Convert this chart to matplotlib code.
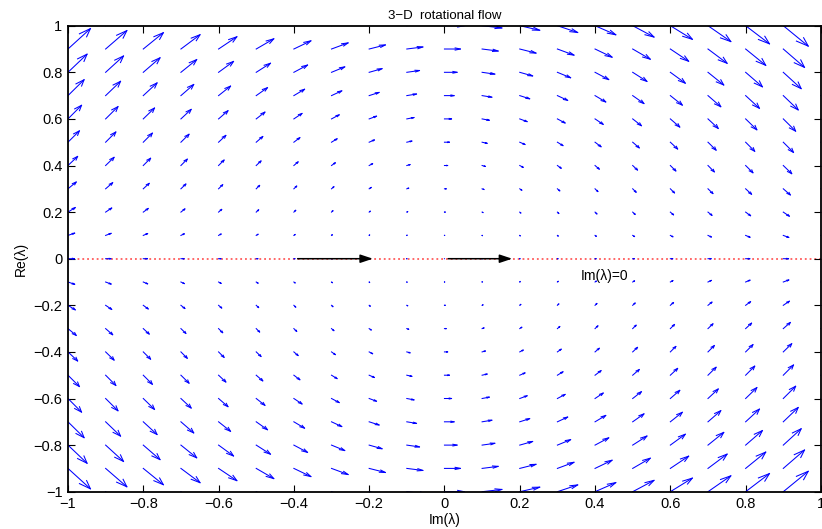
import numpy as np
import matplotlib
matplotlib.use('Agg')
import matplotlib.pyplot as plt
from matplotlib.patches import ArrowStyle

plt.rcParams['font.family'] = ['Liberation Sans', 'DejaVu Sans']

# grid of the quiver field (Im on x, Re on y)
x_grid = [-1.0, -0.9, -0.8, -0.7, -0.6, -0.5, -0.4, -0.3, -0.2, -0.1, 0.0,
          0.1, 0.2, 0.3, 0.4, 0.5, 0.6, 0.7, 0.8, 0.9, 1.0]
y_grid = [-1.0, -0.9, -0.8, -0.7, -0.6, -0.5, -0.4, -0.3, -0.2, -0.1, 0.0,
          0.1, 0.2, 0.3, 0.4, 0.5, 0.6, 0.7, 0.8, 0.9, 1.0]

# horizontal component read along the y=0 row (per column) and x=0 column (per row)
u_col = [0.0172, 0.0140, 0.0110, 0.0084, 0.0062, 0.0043, 0.0028, 0.0016, 0.0007, 0.0002, 0.0,
         0.0002, 0.0007, 0.0016, 0.0028, 0.0043, 0.0062, 0.0084, 0.0110, 0.0140, 0.0172]
u_row = [0.0523, 0.0424, 0.0335, 0.0256, 0.0188, 0.0131, 0.0084, 0.0047, 0.0021, 0.0005, 0.0,
         0.0005, 0.0021, 0.0047, 0.0084, 0.0131, 0.0188, 0.0256, 0.0335, 0.0424, 0.0523]
# vertical component per unit of Re, read per column
v_slope = [0.0974, 0.0877, 0.0779, 0.0682, 0.0584, 0.0487, 0.0390, 0.0292, 0.0195, 0.0097, 0.0,
           -0.0097, -0.0195, -0.0292, -0.0390, -0.0487, -0.0584, -0.0682, -0.0779, -0.0877, -0.0974]

# the two black arrows on the Im axis
flow_arrows = [(-0.39, -0.19), (0.01, 0.18)]
label_pos = (0.363, -0.073)

xticks = [-1, -0.8, -0.6, -0.4, -0.2, 0, 0.2, 0.4, 0.6, 0.8, 1]
tick_labels = ['\u22121', '\u22120.8', '\u22120.6', '\u22120.4', '\u22120.2', '0',
               '0.2', '0.4', '0.6', '0.8', '1']

X, Y = np.meshgrid(x_grid, y_grid)
U = np.array(u_row)[:, None] + np.array(u_col)[None, :]
V = np.array(v_slope)[None, :] * np.array(y_grid)[:, None]

fig = plt.figure(figsize=(8.22, 5.29), dpi=100)
ax = fig.add_axes([0.0827, 0.0705, 0.916, 0.8809])

ax.axhline(0, color='#ff5a5a', linestyle=':', linewidth=1.3, zorder=1)

# matlab-style quiver: shaft + open head, computed in data units
x, y, u, v = X.ravel(), Y.ravel(), U.ravel(), V.ravel()
alpha, beta, eps = 0.33, 0.33, 1e-12
nan = np.full_like(x, np.nan)
shaft_x = np.column_stack([x, x + u, nan]).ravel()
shaft_y = np.column_stack([y, y + v, nan]).ravel()
head_x = np.column_stack([x + u - alpha * (u + beta * (v + eps)), x + u,
                          x + u - alpha * (u - beta * (v + eps)), nan]).ravel()
head_y = np.column_stack([y + v - alpha * (v - beta * (u + eps)), y + v,
                          y + v - alpha * (v + beta * (u + eps)), nan]).ravel()
ax.plot(shaft_x, shaft_y, color='#0000ff', linewidth=0.75, zorder=2)
ax.plot(head_x, head_y, color='#0000ff', linewidth=0.75, zorder=2)

for tail, tip in flow_arrows:
    ax.annotate('', xy=(tip, 0), xytext=(tail, 0),
                arrowprops=dict(arrowstyle=ArrowStyle('-|>', head_length=0.75, head_width=0.25),
                                mutation_scale=10, color='k', lw=1.1,
                                shrinkA=0, shrinkB=0), zorder=3)

ax.text(label_pos[0], label_pos[1], 'Im(\u03bb)=0', fontsize=10, ha='left', va='center')

ax.set_xlim(-1, 1)
ax.set_ylim(-1, 1)
ax.set_xticks(xticks)
ax.set_xticklabels(tick_labels)
ax.set_yticks(xticks)
ax.set_yticklabels(tick_labels)
ax.tick_params(direction='in', top=True, right=True, length=5, width=0.8,
               labelsize=10.5, pad=4)
for s in ax.spines.values():
    s.set_linewidth(1.3)

ax.set_title('3\u2212D  rotational flow', fontsize=9.5, pad=5)
ax.set_xlabel('Im(\u03bb)', fontsize=10, labelpad=1)
ax.set_ylabel('Re(\u03bb)', fontsize=10, labelpad=4)

fig.savefig('out.png', dpi=100)
